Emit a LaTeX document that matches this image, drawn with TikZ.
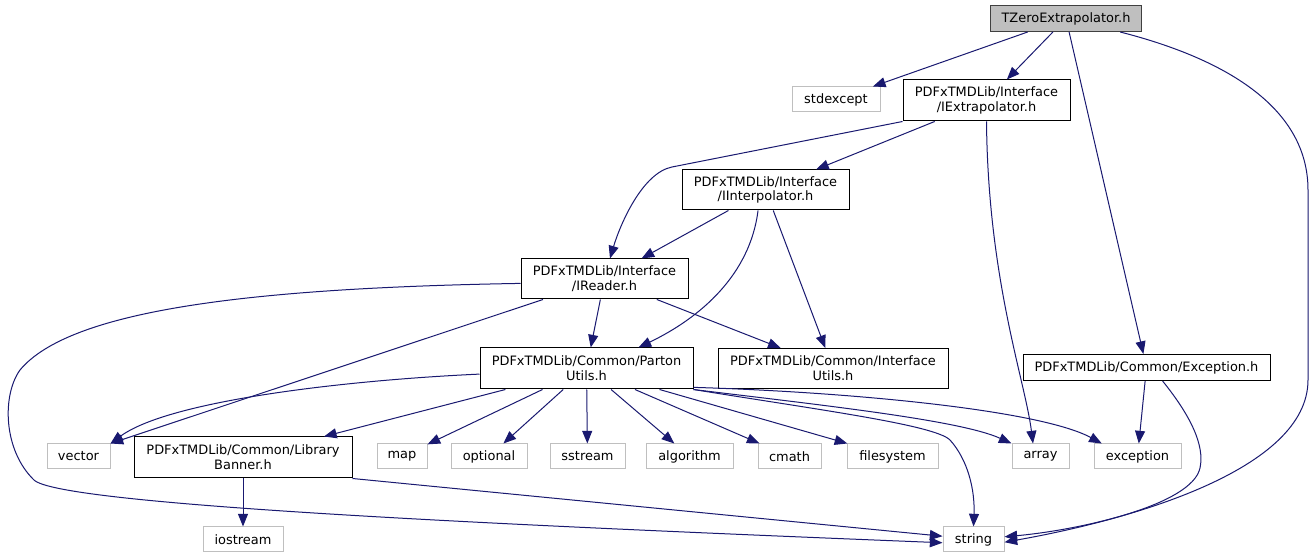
\documentclass[tikz,border=0pt]{standalone}
\usepackage{fontspec}
\setmainfont{DejaVu Sans}
\usetikzlibrary{arrows.meta}
\definecolor{edgeblue}{HTML}{191970}
\definecolor{boxgray}{HTML}{BFBFBF}
\definecolor{hdrline}{HTML}{404040}
\tikzset{
	sz/.style 2 args={minimum width=#1*0.75pt, minimum height=#2*0.75pt},
	doxbox/.style={draw, inner sep=0pt, align=center, line width=0.75pt, font=\fontsize{9.7}{11}\selectfont},
	cur/.style={doxbox, draw=hdrline, fill=boxgray},
	inc/.style={doxbox, draw=black},
	sys/.style={doxbox, draw=boxgray},
	dep/.style={draw=edgeblue, line width=0.75pt, -{Triangle[length=9.5pt,width=7.5pt]}},
}
\begin{document}
\begin{tikzpicture}[x=0.75pt, y=-0.75pt]
		\fill[white] (0,0) rectangle (1315,559);
		% headers
		\node[cur, sz={151}{26}] (tze) at (1066,18.5) {TZeroExtrapolator.h};
		\node[inc, sz={167}{41}] (ixt) at (986.5,100.5) {PDFxTMDLib/Interface\\/IExtrapolator.h};
		\node[inc, sz={167}{40}] (iip) at (765.5,190) {PDFxTMDLib/Interface\\/IInterpolator.h};
		\node[inc, sz={167}{40}] (rdr) at (604.5,279) {PDFxTMDLib/Interface\\/IReader.h};
		\node[inc, sz={213}{41}] (pu) at (586.5,368.5) {PDFxTMDLib/Common/Parton\\Utils.h};
		\node[inc, sz={230}{40}] (ifu) at (833,368.5) {PDFxTMDLib/Common/Interface\\Utils.h};
		\node[inc, sz={247}{26}] (exh) at (1146.5,367.5) {PDFxTMDLib/Common/Exception.h};
		\node[inc, sz={218}{41}] (ban) at (243,457.5) {PDFxTMDLib/Common/Library\\Banner.h};
		% system headers
		\node[sys, sz={88}{25}] (stdx) at (836,99.5) {stdexcept};
		\node[sys, sz={63}{25}] (vec) at (78.5,456.5) {vector};
		\node[sys, sz={50}{25}] (map) at (402,456.5) {map};
		\node[sys, sz={76}{25}] (opt) at (489,456.5) {optional};
		\node[sys, sz={75}{25}] (sst) at (587.5,456.5) {sstream};
		\node[sys, sz={87}{25}] (alg) at (689.5,456.5) {algorithm};
		\node[sys, sz={63}{25}] (cmt) at (789.5,456.5) {cmath};
		\node[sys, sz={91}{25}] (fsy) at (892.5,456.5) {filesystem};
		\node[sys, sz={57}{25}] (arr) at (1040.5,456.5) {array};
		\node[sys, sz={87}{25}] (exc) at (1137.5,456.5) {exception};
		\node[sys, sz={80}{25}] (ios) at (243,539.5) {iostream};
		\node[sys, sz={61}{25}] (str) at (973.5,539.5) {string};
		
		% TZeroExtrapolator.h
		\draw[dep] (tze) -- (stdx);
		\draw[dep] (tze) -- (ixt);
		\draw[dep] (tze) -- (exh);
		\draw[dep] (tze.-14) .. controls (1230,60) and (1308,110) .. (1308,190) -- (1308,380) .. controls (1308,470) and (1130,520) .. (str.-5);
		% IExtrapolator.h
		\draw[dep] (ixt) -- (iip);
		\draw[dep] (ixt.south west) -- (672,167) .. controls (642,173) and (620,225) .. (rdr.75);
		\draw[dep] (ixt.south) .. controls (988,280) and (1025,380) .. (arr.120);
		% IInterpolator.h
		\draw[dep] (iip) -- (rdr);
		\draw[dep] (iip.-110) .. controls (750,275) and (700,318) .. (pu.22);
		\draw[dep] (iip) -- (ifu);
		% IReader.h
		\draw[dep] (rdr) -- (pu);
		\draw[dep] (rdr) -- (ifu);
		\draw[dep] (rdr) -- (vec.north east);
		\draw[dep] (rdr.183) .. controls (250,288) and (70,310) .. (20,370) .. controls (2,395) and (3,450) .. (34,480) .. controls (60,505) and (500,525) .. (str.186);
		% PartonUtils.h
		\draw[dep] (pu.183) .. controls (350,380) and (170,400) .. (vec.north east);
		\draw[dep] (pu) -- (ban);
		\draw[dep] (pu) -- (map);
		\draw[dep] (pu) -- (opt);
		\draw[dep] (pu) -- (sst);
		\draw[dep] (pu) -- (alg);
		\draw[dep] (pu) -- (cmt);
		\draw[dep] (pu) -- (fsy);
		\draw[dep] (pu.south east) .. controls (820,410) and (935,425) .. (950,440) .. controls (968,460) and (975,490) .. (str.north);
		\draw[dep] (pu.south east) .. controls (820,405) and (960,420) .. (arr.north west);
		\draw[dep] (pu.-10) .. controls (850,392) and (1040,410) .. (exc.160);
		% LibraryBanner.h
		\draw[dep] (ban) -- (ios);
		\draw[dep] (ban.south east) -- (str.174);
		% Exception.h
		\draw[dep] (exh) -- (exc);
		\draw[dep] (exh.-40) .. controls (1190,415) and (1205,445) .. (1200,468) .. controls (1192,505) and (1080,530) .. (str.5);
	\end{tikzpicture}
\end{document}
